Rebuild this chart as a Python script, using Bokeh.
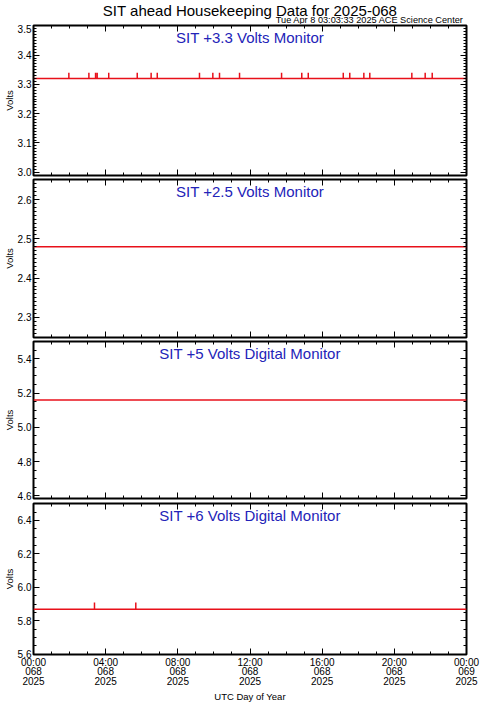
from bokeh.plotting import figure
from bokeh.layouts import column
from bokeh.models import (LinearAxis, Range1d, SingleIntervalTicker, Label,
                          PrintfTickFormatter, CustomJSTickFormatter)
from bokeh.embed import file_html
from bokeh.resources import INLINE

FONT = "Liberation Sans"

# ---------------- data ----------------
title_text = "SIT ahead Housekeeping Data for 2025-068"
stamp_text = "Tue Apr  8 03:03:33 2025 ACE Science Center"
x_label = "UTC Day of Year"
y_label = "Volts"

panel_titles = ["SIT +3.3 Volts Monitor", "SIT +2.5 Volts Monitor",
                "SIT +5 Volts Digital Monitor", "SIT +6 Volts Digital Monitor"]
y_mins = [2.99, 2.25, 4.585, 5.6]
y_maxs = [3.5, 2.65, 5.5, 6.5]
y_major = [0.1, 0.1, 0.2, 0.2]
y_minor_count = [10, 10, 4, 4]

# +3.3 V monitor: flat level with one-sample upward blips (hours of day)
v33_base = 3.32
v33_spike_value = 3.34
v33_spike_hours = [1.96, 3.07, 3.44, 3.53, 4.17, 5.75, 6.52, 6.86, 9.20, 9.94, 10.31,
                   11.42, 13.75, 14.87, 15.23, 17.17, 17.53, 18.31, 18.64, 20.97,
                   21.71, 22.10]
# +2.5 V monitor
v25_base = 2.48
v25_spike_hours = []
v25_spike_value = 2.48
# +5 V digital monitor
v5_base = 5.16
v5_spike_hours = []
v5_spike_value = 5.16
# +6 V digital monitor
v6_base = 5.87
v6_spike_value = 5.91
v6_spike_hours = [3.38, 5.67]

day_start = 0.0
day_end = 24.0

tick_hours = [0, 4, 8, 12, 16, 20, 24]
tick_times = ["00:00", "04:00", "08:00", "12:00", "16:00", "20:00", "00:00"]
tick_doy = ["068", "068", "068", "068", "068", "068", "069"]
tick_year = ["2025", "2025", "2025", "2025", "2025", "2025", "2025"]


def series(base, spikes, spike_val):
    xs = [day_start]
    ys = [base]
    for h in spikes:
        xs += [h, h, h]
        ys += [base, spike_val, base]
    xs.append(day_end)
    ys.append(base)
    return xs, ys


series_list = [
    series(v33_base, v33_spike_hours, v33_spike_value),
    series(v25_base, v25_spike_hours, v25_spike_value),
    series(v5_base, v5_spike_hours, v5_spike_value),
    series(v6_base, v6_spike_hours, v6_spike_value),
]

# ---------------- layout ----------------
W = 481
LEFT = 33
RIGHT = 15
HEADER_H = 24
heights = [154, 162, 161, 205]
tops = [1, 1, 1, 2]
bottoms = [3, 3, 3, 52]
BLUE = "#2323b8"
RED = "#e8101a"

# header with title and time stamp (same horizontal frame as the panels)
hdr = figure(width=W, height=HEADER_H, output_backend="svg", toolbar_location=None,
             x_range=Range1d(day_start, day_end), y_range=Range1d(HEADER_H, 0),
             x_axis_location=None, y_axis_location=None,
             min_border_left=LEFT, min_border_right=RIGHT, min_border_top=0, min_border_bottom=0)
hdr.xgrid.grid_line_color = None
hdr.ygrid.grid_line_color = None
hdr.outline_line_color = None
hdr.add_layout(Label(x=(day_start + day_end) / 2, y=10, text=title_text, text_align="center",
                     text_baseline="middle", text_color="black", text_font=FONT,
                     text_font_size="15px"))
hdr.add_layout(Label(x=day_end, y=19.5, text=stamp_text, text_align="right",
                     text_baseline="middle", text_color="black", text_font=FONT,
                     text_font_size="9.2px"))


def style_axis(ax, labels):
    ax.axis_line_color = None
    ax.major_tick_in = 6
    ax.major_tick_out = 0
    ax.minor_tick_in = 3
    ax.minor_tick_out = 0
    ax.major_tick_line_color = "black"
    ax.minor_tick_line_color = "black"
    ax.major_tick_line_width = 1
    ax.minor_tick_line_width = 1
    if labels:
        ax.major_label_text_font = FONT
        ax.major_label_text_font_size = "10px"
        ax.major_label_text_color = "black"
        ax.major_label_standoff = 2
    else:
        ax.formatter = CustomJSTickFormatter(code="return ''")
        ax.major_label_standoff = 0


figs = [hdr]
for i in range(4):
    pad = 0.001
    p = figure(width=W, height=heights[i], output_backend="svg", toolbar_location=None,
               x_range=Range1d(day_start, day_end),
               y_range=Range1d(y_mins[i] - pad, y_maxs[i] + pad),
               x_axis_location=None, y_axis_location=None,
               min_border_left=LEFT, min_border_right=RIGHT,
               min_border_top=tops[i], min_border_bottom=bottoms[i])
    p.xgrid.grid_line_color = None
    p.ygrid.grid_line_color = None
    p.outline_line_color = "black"
    p.outline_line_width = 2
    p.background_fill_color = "white"
    p.border_fill_color = "white"

    for loc in ["below", "above"]:
        ax = LinearAxis(ticker=SingleIntervalTicker(interval=4, num_minor_ticks=4))
        show = (loc == "below" and i == 3)
        style_axis(ax, show)
        if show:
            ax.major_label_overrides = {
                h: f"{t}\n{d}\n{y}" for h, t, d, y in zip(tick_hours, tick_times, tick_doy, tick_year)
            }
            ax.major_label_text_line_height = 0.9
            ax.major_label_standoff = 2
            ax.axis_label = x_label
            ax.axis_label_text_font = FONT
            ax.axis_label_text_font_size = "9.5px"
            ax.axis_label_text_font_style = "normal"
            ax.axis_label_text_color = "black"
            ax.axis_label_standoff = 1
        p.add_layout(ax, loc)
    for loc in ["left", "right"]:
        ax = LinearAxis(ticker=SingleIntervalTicker(interval=y_major[i], num_minor_ticks=y_minor_count[i]),
                        formatter=PrintfTickFormatter(format="%.1f"))
        style_axis(ax, loc == "left")
        if loc == "left":
            ax.axis_label = y_label
            ax.axis_label_text_font = FONT
            ax.axis_label_text_font_size = "9.5px"
            ax.axis_label_text_font_style = "normal"
            ax.axis_label_text_color = "black"
            ax.axis_label_standoff = 0
        p.add_layout(ax, loc)

    xs, ys = series_list[i]
    p.line(xs, ys, line_color=RED, line_width=1.5)

    p.add_layout(Label(x=(day_start + day_end) / 2, y=y_maxs[i], y_offset=-12, text=panel_titles[i],
                       text_align="center", text_baseline="middle", text_color=BLUE,
                       text_font=FONT, text_font_size="15px"))
    figs.append(p)

layout = column(*figs, spacing=0)
open("out.html", "w").write(file_html(layout, INLINE))
